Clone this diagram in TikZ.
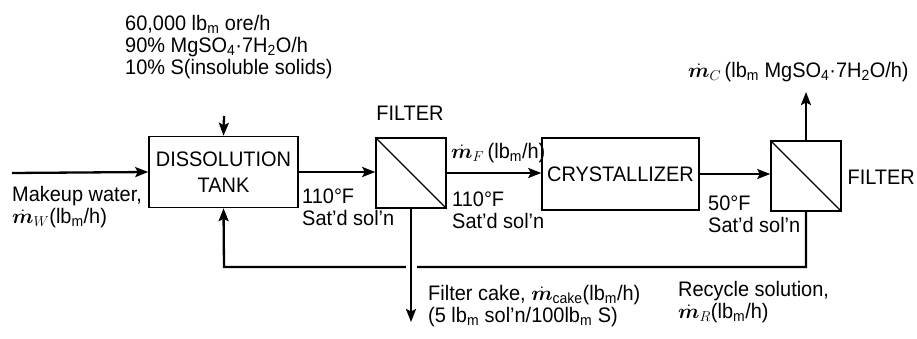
\documentclass[tikz,border=0pt]{standalone}
\usepackage{fontspec}
\setmainfont{Liberation Sans}[FakeStretch=0.95]
\usepackage{bm}
\usetikzlibrary{arrows.meta,calc}
\newcommand{\lbm}{lb\textsubscript{m}}
\newcommand{\mdot}{\bm{\dot m}}
\begin{document}
\begin{tikzpicture}[x=1pt,y=-1pt,
  lbl/.style={inner sep=0pt, align=left, anchor=north west, font=\fontsize{21}{22}\selectfont},
  unitbox/.style={draw, line width=1.5pt, inner sep=0pt, align=center, font=\fontsize{21}{25}\selectfont},
  filterbox/.style={draw, line width=1.5pt, minimum size=70pt, inner sep=0pt},
  flow/.style={line width=2.3pt, line join=miter, -{Stealth[length=13pt,width=10pt,inset=2.5pt]}}]
\useasboundingbox (0,0) rectangle (917,339);

% units
\node[unitbox, minimum width=149pt, minimum height=71pt] (tank) at (223.5,172) {DISSOLUTION\\[1pt]TANK};
\node[filterbox] (f1) at (411,173) {};
\draw[line width=1.3pt] (f1.north west) -- (f1.south east);
\node[unitbox, minimum width=157pt, minimum height=72pt] (cryst) at (620.5,174) {CRYSTALLIZER};
\node[filterbox] (f2) at (806,176) {};
\draw[line width=1.3pt] (f2.north west) -- (f2.south east);

% free ends
\coordinate (win) at (12,173);
\coordinate (orein) at (224,116);
\coordinate (prod) at (806,92);
\coordinate (r1) at (806,267);
\coordinate (r2) at (224,267);
\coordinate (cake) at (411,322);

% streams
\draw[flow] (win) -- (tank.west);
\draw[flow] (orein) -- (tank.north);
\draw[flow] (tank.east) -- (tank.east -| f1.west);
\draw[flow] (f1.east) -- (f1.east -| cryst.west);
\draw[flow] (cryst.east) -- (cryst.east -| f2.west);
\draw[flow] (f2.north) -- (prod);
\draw[flow] (f2.south) -- (r1) -- (r2) -- (tank.south);
\draw[flow, preaction={draw=white, line width=11pt, -, shorten <=6pt}] (f1.south) -- (cake);

% labels
\node[lbl] (feed) at (125,15) {60,000 \lbm{} ore/h\\90\% MgSO\textsubscript{4}·7H\textsubscript{2}O/h\\10\% S(insoluble solids)};
\node[lbl] (mw) at (12,186) {Makeup water,\\$\mdot_{W}$(\lbm/h)};
\node[lbl] (t1) at (302,189) {110°F\\Sat'd sol'n};
\node[lbl, anchor=south] (fl1) at (410,121) {FILTER};
\node[lbl, anchor=south west] (mf) at (451,163) {$\mdot_{F}$\,(\lbm/h)};
\node[lbl] (t2) at (452,192) {110°F\\Sat'd sol'n};
\node[lbl, anchor=south west] (mc) at (688,82) {$\mdot_{C}$\,(\lbm{} MgSO\textsubscript{4}·7H\textsubscript{2}O/h)};
\node[lbl, anchor=east] (fl2) at (915,177) {FILTER};
\node[lbl] (t3) at (708,196) {50°F\\Sat'd sol'n};
\node[lbl] (ck) at (428,285) {Filter cake, $\mdot$\textsubscript{cake}(\lbm/h)\\(5 \lbm{} sol'n/100\lbm{} S)};
\node[lbl] (rs) at (678,281) {Recycle solution,\\$\mdot_{R}$(\lbm/h)};
\end{tikzpicture}
\end{document}
